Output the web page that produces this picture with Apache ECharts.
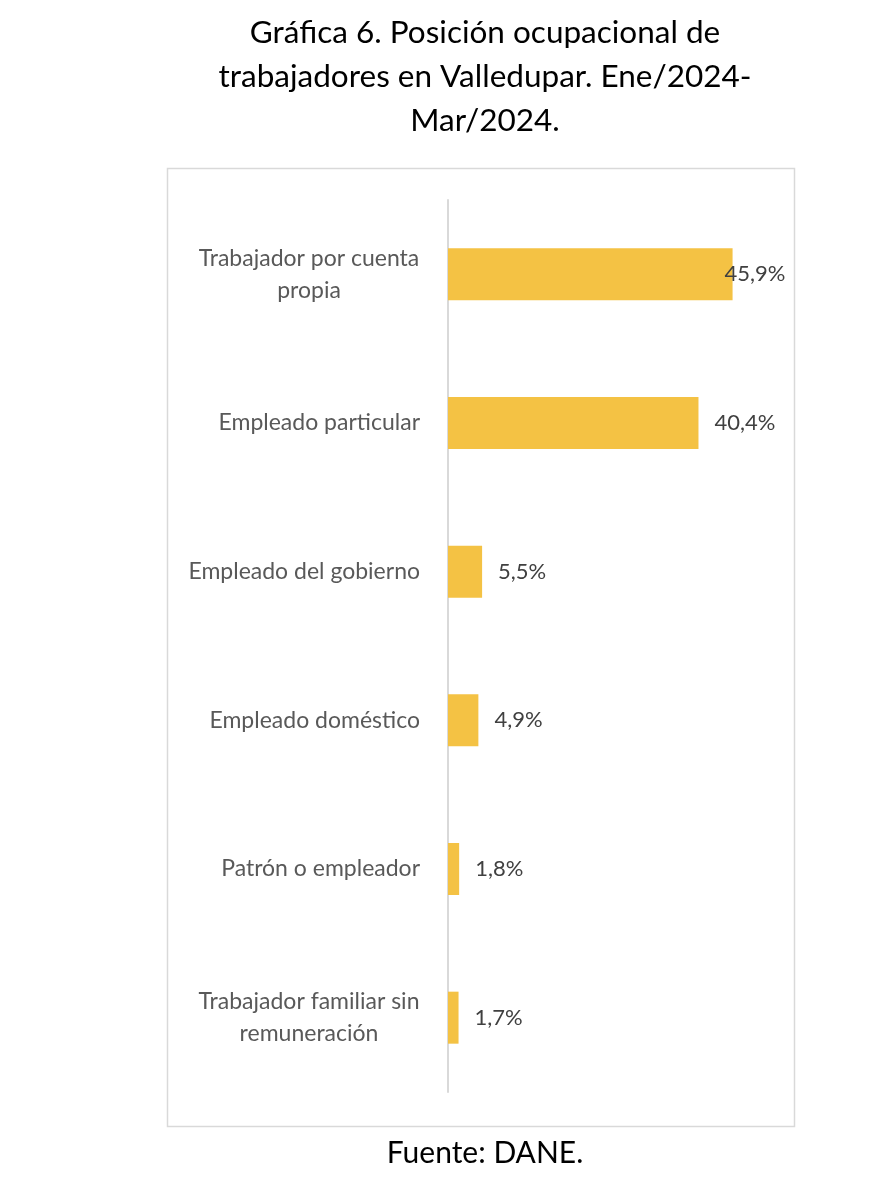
<!DOCTYPE html>
<html>
<head>
<meta charset="utf-8">
<script src="https://cdn.jsdelivr.net/npm/echarts@6/dist/echarts.min.js"></script>
<style>
  html, body { margin: 0; padding: 0; background: #fff; }
  #chart { width: 891px; height: 1200px; }
</style>
</head>
<body>
<div id="chart"></div>
<script>
// datos de la gráfica
var categorias = [
    'Trabajador por cuenta\npropia',
    'Empleado particular',
    'Empleado del gobierno',
    'Empleado doméstico',
    'Patrón o empleador',
    'Trabajador familiar sin\nremuneración'
];
var valores = [45.9, 40.4, 5.5, 4.9, 1.8, 1.7];

var fuente = 'Lato, "Noto Sans", sans-serif';

var option = {
    backgroundColor: '#ffffff',
    title: [
        {
            text: 'Gráfica 6. Posición ocupacional de\ntrabajadores en Valledupar. Ene/2024-\nMar/2024.',
            left: 480,
            top: 6,
            textAlign: 'center',
            textStyle: {
                fontFamily: fuente,
                fontSize: 31.5,
                fontWeight: 'normal',
                color: '#000',
                lineHeight: 44,
                align: 'center'
            }
        },
        {
            text: 'Fuente: DANE.',
            left: 480,
            top: 1133,
            textAlign: 'center',
            textStyle: {
                fontFamily: fuente,
                fontSize: 30,
                fontWeight: 'normal',
                color: '#000'
            }
        }
    ],
    graphic: [
        {
            type: 'rect',
            shape: { x: 167.5, y: 168.5, width: 627, height: 958 },
            style: { fill: 'none', stroke: '#d9d9d9', lineWidth: 1.5 },
            silent: true
        }
    ],
    grid: {
        left: 448,
        top: 200,
        width: 310,
        height: 892
    },
    xAxis: {
        type: 'value',
        min: 0,
        max: 50,
        show: false
    },
    yAxis: {
        type: 'category',
        inverse: true,
        data: categorias,
        axisLine: { lineStyle: { color: '#d9d9d9', width: 2 } },
        axisTick: { show: false },
        axisLabel: {
            margin: 28,
            fontFamily: fuente,
            fontSize: 23,
            color: '#595959',
            lineHeight: 32,
            // las etiquetas de dos líneas van centradas en su bloque
            formatter: function (v) {
                if (v.indexOf('\n') >= 0) {
                    return v.split('\n').map(function (s) {
                        return '{c|' + s + '}';
                    }).join('\n');
                }
                return v;
            },
            rich: {
                c: {
                    width: 222,
                    align: 'center',
                    fontFamily: fuente,
                    fontSize: 23,
                    color: '#595959',
                    lineHeight: 32
                }
            }
        },
        splitLine: { show: false }
    },
    series: [
        {
            type: 'bar',
            barWidth: 52,
            itemStyle: { color: '#f4c244' },
            label: {
                show: true,
                position: 'right',
                distance: 16,
                fontFamily: fuente,
                fontSize: 22,
                color: '#404040',
                formatter: function (p) {
                    return p.value.toFixed(1).replace('.', ',') + '%';
                }
            },
            data: valores.map(function (v, i) {
                if (i === 0) {
                    return { value: v, label: { offset: [-24, 0] } };
                }
                return v;
            })
        }
    ]
};

var myChart = echarts.init(document.getElementById('chart'));
myChart.setOption(option);
</script>
</body>
</html>
